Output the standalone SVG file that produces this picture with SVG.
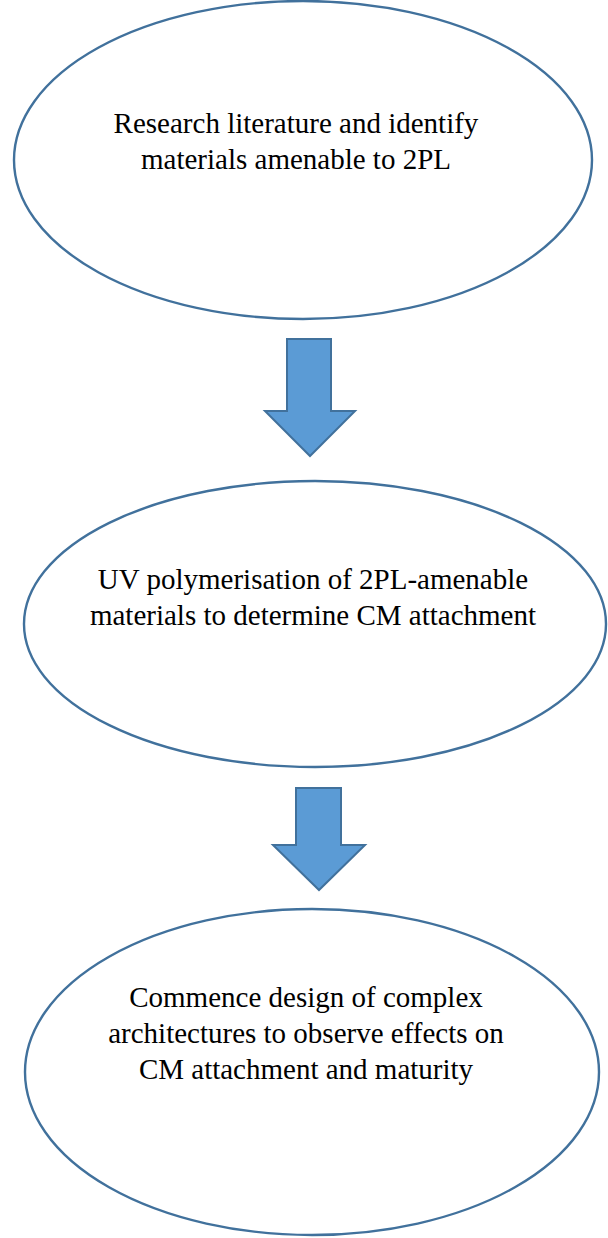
<svg xmlns="http://www.w3.org/2000/svg" width="608" height="1238" viewBox="0 0 608 1238">
<style>
.node{fill:#ffffff;stroke:#41719c;stroke-width:2.4}
.arrow{fill:#5b9bd5;stroke:#41719c;stroke-width:2;stroke-linejoin:miter}
.t{font-family:"Liberation Serif","Times New Roman",serif;font-size:29px;fill:#000;text-anchor:middle}
</style>
<rect width="608" height="1238" fill="#ffffff"/>
<g id="connectors">
<path class="arrow" d="M287,339 L331,339 L331,411 L355,411 L310,456 L265,411 L287,411 Z"/>
<path class="arrow" d="M296,788 L341,788 L341,845 L365,845 L319,890 L273,845 L296,845 Z"/>
</g>
<g id="node1">
<ellipse class="node" cx="303" cy="160" rx="289" ry="159"/>
<text class="t" x="296" y="133">Research literature and identify</text>
<text class="t" x="296" y="169">materials amenable to 2PL</text>
</g>
<g id="node2">
<ellipse class="node" cx="315" cy="624" rx="291" ry="143"/>
<text class="t" x="313" y="589">UV polymerisation of 2PL-amenable</text>
<text class="t" x="313" y="625">materials to determine CM attachment</text>
</g>
<g id="node3">
<ellipse class="node" cx="312" cy="1072" rx="287" ry="163"/>
<text class="t" x="306" y="1007">Commence design of complex</text>
<text class="t" x="306" y="1043">architectures to observe effects on</text>
<text class="t" x="306" y="1079">CM attachment and maturity</text>
</g>
</svg>
